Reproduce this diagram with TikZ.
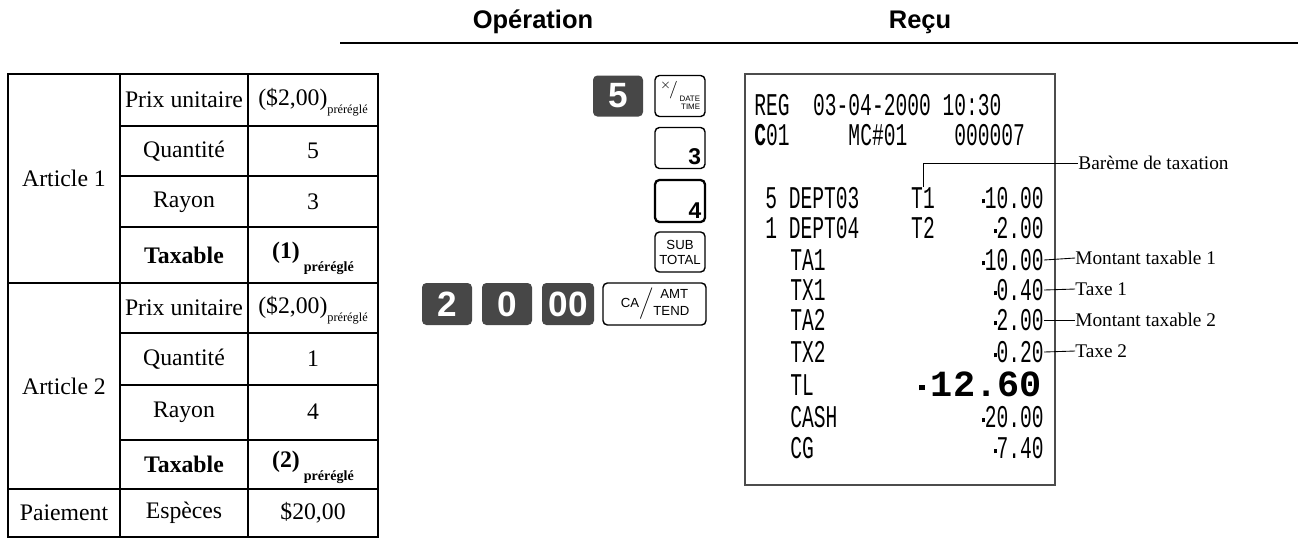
\documentclass[tikz,border=0pt]{standalone}
\usepackage{fontspec}
\setmainfont{Liberation Serif}
\setsansfont{Liberation Sans}
\setmonofont{Liberation Mono}
\usetikzlibrary{positioning}

\newcommand{\preset}[1]{\raisebox{-0.7ex}{\fontsize{7}{8}\selectfont #1}}
\newcommand{\rcpt}[1]{\scalebox{0.62}[1]{\ttfamily #1}}
\newcommand{\sqdot}{\rule[0.3ex]{0.28ex}{0.28ex}}

\begin{document}
\begin{tikzpicture}[x=0.02cm, y=-0.02cm,
    font=\fontsize{13.5}{15}\selectfont,
    head/.style={font=\sffamily\bfseries\fontsize{14.5}{16}\selectfont},
    cell/.style={inner sep=0pt},
    darkkey/.style={fill=black!72, rounded corners=2.5pt, inner sep=0pt, text=white,
                    font=\sffamily\bfseries\fontsize{20}{20}\selectfont},
    litekey/.style={draw=black, line width=0.8pt, rounded corners=2.5pt, fill=white, inner sep=0pt},
    rline/.style={font=\fontsize{18}{18}\selectfont, inner sep=0pt},
    note/.style={font=\fontsize{11}{13}\selectfont, anchor=west, inner sep=0pt},
    lead/.style={draw=black, line width=0.5pt}
]
\useasboundingbox (0,0) rectangle (1304,539);

% Headers
\node[head] (oper) at (533,22) {Opération};
\node[head] (recu) at (920,22) {Reçu};
\draw[line width=0.8pt] (340,43) -- (1298,43);

% Table
\draw[line width=1.2pt] (8,74) rectangle (378,537);
\draw[line width=0.6pt] (120,74) -- (120,537) (248,74) -- (248,537);
\foreach \y in {126,176,227,333,385,440} {
    \draw[line width=0.6pt] (120,\y) -- (378,\y);
}
\draw[line width=0.6pt] (8,283) -- (378,283) (8,489) -- (378,489);

\node[cell] (art1) at (64,178) {Article 1};
\node[cell] (art2) at (64,386) {Article 2};
\node[cell] (pay) at (64,513) {Paiement};

\node[cell] (prix1) at (184,100) {Prix unitaire};
\node[cell] (qte1) at (184,151) {Quantité};
\node[cell] (ray1) at (184,202) {Rayon};
\node[cell] (tax1) at (184,255) {\bfseries Taxable};
\node[cell] (prix2) at (184,308) {Prix unitaire};
\node[cell] (qte2) at (184,359) {Quantité};
\node[cell] (ray2) at (184,412) {Rayon};
\node[cell] (tax2) at (184,464) {\bfseries Taxable};
\node[cell] (esp) at (184,513) {Espèces};

\node[cell] (vprix1) at (313,102) {(\$2,00)\preset{préréglé}};
\node[cell] (vqte1) at (313,151) {5};
\node[cell] (vray1) at (313,202) {3};
\node[cell] (vtax1) at (313,258) {\bfseries (1)\,\raisebox{-1.2ex}{\fontsize{8}{9}\selectfont préréglé}};
\node[cell] (vprix2) at (313,310) {(\$2,00)\preset{préréglé}};
\node[cell] (vqte2) at (313,359) {1};
\node[cell] (vray2) at (313,412) {4};
\node[cell] (vtax2) at (313,467) {\bfseries (2)\,\raisebox{-1.2ex}{\fontsize{8}{9}\selectfont préréglé}};
\node[cell] (vesp) at (313,513) {\$20,00};

% Keys
\node[darkkey, minimum width=1.0cm, minimum height=0.82cm] (k5) at (618,96) {5};
\node[litekey, minimum width=1.0cm, minimum height=0.82cm] (kx) at (680,96) {};
\node[font=\sffamily\fontsize{10}{10}\selectfont, inner sep=0pt] at ([xshift=-0.22cm,yshift=0.12cm]kx.center) {$^{\times}\!/$};
\node[font=\sffamily\fontsize{4.5}{5}\selectfont, align=right, inner sep=0pt, anchor=south east] at ([xshift=-3pt,yshift=4pt]kx.south east) {DATE\\TIME};
\node[litekey, minimum width=1.0cm, minimum height=0.82cm] (k3) at (680,148) {};
\node[font=\sffamily\bfseries\fontsize{13}{13}\selectfont, anchor=south east, inner sep=2.5pt] at (k3.south east) {3};
\node[litekey, line width=1.3pt, minimum width=1.0cm, minimum height=0.84cm] (k4) at (680,201) {};
\node[font=\sffamily\bfseries\fontsize{13}{13}\selectfont, anchor=south east, inner sep=2.5pt] at (k4.south east) {4};
\node[litekey, minimum width=1.0cm, minimum height=0.8cm, align=center,
      font=\sffamily\fontsize{7.5}{8.5}\selectfont] (ksub) at (680,252) {SUB\\TOTAL};
\node[darkkey, minimum width=1.0cm, minimum height=0.84cm] (k2) at (447,304) {2};
\node[darkkey, minimum width=1.0cm, minimum height=0.84cm] (k0) at (507,304) {0};
\node[darkkey, minimum width=1.04cm, minimum height=0.84cm] (k00) at (568,304) {00};
\node[litekey, minimum width=2.06cm, minimum height=0.84cm,
      font=\sffamily\fontsize{7.5}{8.5}\selectfont] (kca) at (654.5,304) {CA$\big/$\raisebox{-1.2ex}{TEND}\hspace{-2.2em}\raisebox{1.2ex}{AMT}};

% Receipt
\draw[line width=0.6pt, black!70] (745,74) rectangle (1055,485);
\node[rline, anchor=west] (reg) at (754,105) {\rcpt{REG~~03-04-2000~10:30}};
\node[rline, anchor=west] (clerk) at (754,135) {\rcpt{\textbf{C}01~~~~~MC\#01~~~~000007}};
\node[rline, anchor=west] (it1) at (765,198) {\rcpt{5 DEPT03}};
\node[rline, anchor=west] (it2) at (765,228) {\rcpt{1 DEPT04}};
\node[rline] (t1) at (923,198) {\rcpt{T1}};
\node[rline] (t2) at (923,228) {\rcpt{T2}};
\foreach \lbl/\amt/\y/\nm in {TA1/10.00/260/ta1, TX1/0.40/290/tx1, TA2/2.00/320/ta2,
                              TX2/0.20/352/tx2, CASH/20.00/417/cash, CG/7.40/448/cg} {
    \node[rline, anchor=west] (l\nm) at (790,\y) {\rcpt{\lbl}};
    \node[rline, anchor=east] (a\nm) at (1044,\y) {\rcpt{\sqdot\amt}};
}
\node[rline, anchor=east] (a1) at (1044,198) {\rcpt{\sqdot10.00}};
\node[rline, anchor=east] (a2) at (1044,228) {\rcpt{\sqdot2.00}};
\node[rline, anchor=west] (ltl) at (790,385) {\rcpt{TL}};
\node[anchor=east, inner sep=0pt, font=\fontsize{21}{21}\selectfont] (atl) at (1042,384)
    {\ttfamily\bfseries \sqdot\,12.60};

% Annotations
\coordinate (bar) at (923,163);
\node[note] (nbar) at (1078,163) {Barème de taxation};
\draw[lead] (t1.north) -- (bar) -- (nbar.west);
\node[note] (nta1) at (1075,258) {Montant taxable 1};
\node[note] (ntx1) at (1075,289) {Taxe 1};
\node[note] (nta2) at (1075,320) {Montant taxable 2};
\node[note] (ntx2) at (1075,351) {Taxe 2};
\foreach \nm in {ta1,tx1,ta2,tx2} {
    \draw[lead] (a\nm.east) -- (n\nm.west);
}
\end{tikzpicture}
\end{document}
